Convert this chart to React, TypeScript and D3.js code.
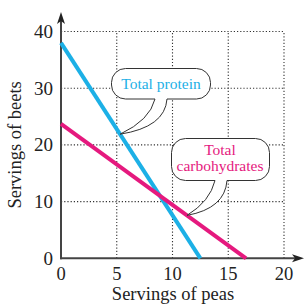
import React from "react";
import * as d3 from "d3";

const xTicks = [0, 5, 10, 15, 20];
const yTicks = [0, 10, 20, 30, 40];
// [peas, beets] endpoints
const proteinLine: [number, number][] = [[0, 38], [12.5, 0]];
const carbLine: [number, number][] = [[0, 23.7], [16.6, 0]];

const W = 305, H = 305;
const x = d3.scaleLinear().domain([0, 20]).range([61, 284]);
const y = d3.scaleLinear().domain([0, 40]).range([258.3, 31.5]);

const BLUE = "#1cb0e6";
const MAG = "#e5197e";
const AX = "#444";
const FONT = "'Liberation Serif', 'Times New Roman', serif";

function onLine(l: [number, number][], px: number) {
  const [[x0, y0], [x1, y1]] = l;
  return y0 + ((px - x0) / (x1 - x0)) * (y1 - y0);
}

function calloutPath(
  bx0: number, by0: number, bx1: number, by1: number, r: number,
  tl: number, tr: number, tipX: number, tipY: number
) {
  const p = d3.path();
  p.moveTo(bx0 + r, by0);
  p.lineTo(bx1 - r, by0);
  p.arcTo(bx1, by0, bx1, by0 + r, r);
  p.lineTo(bx1, by1 - r);
  p.arcTo(bx1, by1, bx1 - r, by1, r);
  p.lineTo(tr, by1);
  p.quadraticCurveTo(tr - 2, by1 + (tipY - by1) * 0.8, tipX, tipY);
  p.quadraticCurveTo(tl - 5, by1 + (tipY - by1) * 0.6, tl, by1);
  p.lineTo(bx0 + r, by1);
  p.arcTo(bx0, by1, bx0, by1 - r, r);
  p.lineTo(bx0, by0 + r);
  p.arcTo(bx0, by0, bx0 + r, by0, r);
  p.closePath();
  return p.toString();
}

export default function App() {
  const line = d3.line<[number, number]>().x((d) => x(d[0])).y((d) => y(d[1]));

  const pTipX = 5.3;
  const pTip = [x(pTipX), y(onLine(proteinLine, pTipX))];
  const cTipX = 11.3;
  const cTip = [x(cTipX), y(onLine(carbLine, cTipX))];

  const gridX = xTicks.filter((t) => t > 0);
  const gridY = yTicks.filter((t) => t > 0);

  return (
    <svg width={W} height={H} style={{ position: "absolute", left: 0, top: 0 }} fontFamily={FONT}>
      <rect width={W} height={H} fill="#fff" />
      {gridX.map((t) => (
        <line key={"gx" + t} x1={x(t)} x2={x(t)} y1={y(0)} y2={y(40)} stroke="#333" strokeWidth={1.1} strokeDasharray="1.2,2" />
      ))}
      {gridY.map((t) => (
        <line key={"gy" + t} x1={x(0)} x2={x(20)} y1={y(t)} y2={y(t)} stroke="#333" strokeWidth={1.1} strokeDasharray="1.2,2" />
      ))}
      {/* axes */}
      <line x1={x(0)} x2={x(0)} y1={y(0) + 1} y2={18} stroke={AX} strokeWidth={2} />
      <path d={`M${x(0)},12 L${x(0) - 4},24 L${x(0)},21 L${x(0) + 4},24 Z`} fill="#222" />
      <line x1={x(0) - 1} x2={298} y1={y(0)} y2={y(0)} stroke={AX} strokeWidth={2} />
      <path d={`M304,${y(0)} L292,${y(0) - 4} L295,${y(0)} L292,${y(0) + 4} Z`} fill="#222" />
      {/* lines */}
      <path d={line(proteinLine) || ""} stroke={BLUE} strokeWidth={4} fill="none" />
      <path d={line(carbLine) || ""} stroke={MAG} strokeWidth={4} fill="none" />
      {/* ticks labels */}
      {xTicks.map((t) => (
        <text key={"xt" + t} x={x(t)} y={279.5} textAnchor="middle" fontSize={18.5} fill="#222">{t}</text>
      ))}
      {yTicks.map((t) => (
        <text key={"yt" + t} x={53} y={y(t) + 6.5} textAnchor="end" fontSize={19} fill="#222">{t}</text>
      ))}
      <text x={173} y={299.5} textAnchor="middle" fontSize={18.5} fill="#222">Servings of peas</text>
      <text transform={`translate(21,${(y(0) + y(40)) / 2}) rotate(-90)`} textAnchor="middle" fontSize={18.5} fill="#222">Servings of beets</text>
      {/* callouts */}
      <path d={calloutPath(111.5, 68.5, 210.5, 99, 14, 155, 167, pTip[0], pTip[1])} fill="#fff" stroke="#333" strokeWidth={1} />
      <text x={161} y={89} textAnchor="middle" fontSize={15.5} fill={BLUE}>Total protein</text>
      <path d={calloutPath(171.5, 138.5, 269.5, 180.5, 14, 215, 227, cTip[0], cTip[1])} fill="#fff" stroke="#333" strokeWidth={1} />
      <text x={220} y={155} textAnchor="middle" fontSize={15.5} fill={MAG}>Total</text>
      <text x={220} y={171} textAnchor="middle" fontSize={15.5} fill={MAG}>carbohydrates</text>
    </svg>
  );
}
